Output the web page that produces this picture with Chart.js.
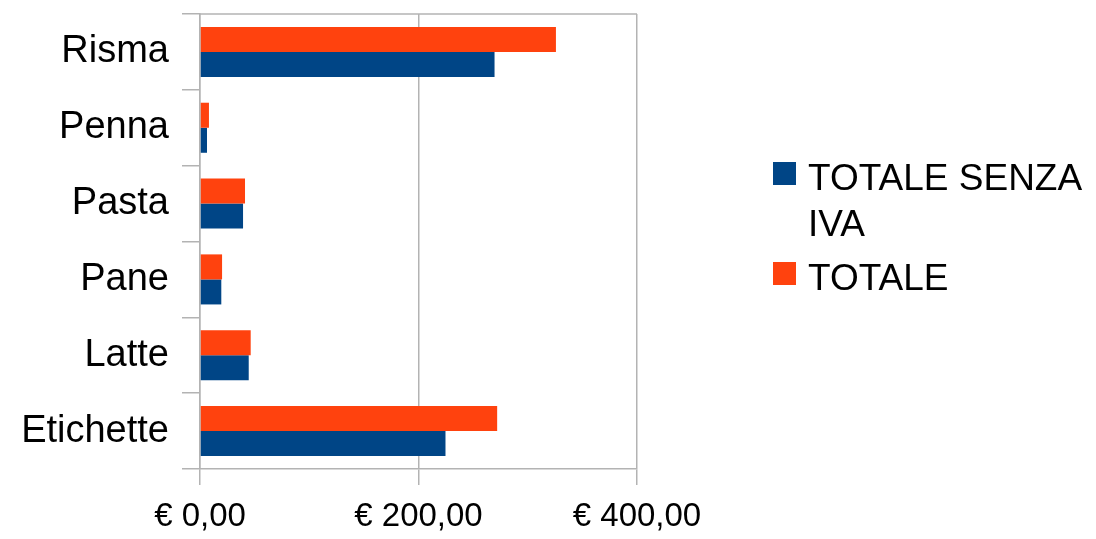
<!DOCTYPE html>
<html>
<head>
<meta charset="utf-8">
<script src="https://cdn.jsdelivr.net/npm/chart.js@4"></script>
<style>
  body { margin: 0; background: #fff; }
  #wrap { position: relative; width: 1096px; height: 539px; }
  #legend { position: absolute; left: 773px; top: 155px; font-family: "Liberation Sans", Arial, sans-serif; font-size: 37px; color: #000; }
  .item { position: relative; padding-left: 35px; width: 290px; line-height: 46px; }
  .box { position: absolute; left: 0; top: 7px; width: 23px; height: 23px; }
</style>
</head>
<body>
<div id="wrap">
  <canvas id="chart" width="1096" height="539"></canvas>
  <div id="legend"></div>
</div>
<script>
// Data
const categories = ['Risma', 'Penna', 'Pasta', 'Pane', 'Latte', 'Etichette'];
const totaleSenzaIva = [269.6, 6.4, 39.4, 19.5, 44.6, 224.7];
const totale = [325.8, 8.2, 41.2, 20.2, 46.4, 272.0];
const xTicks = [0, 200, 400];

const BLUE = '#004586';
const ORANGE = '#ff420e';
const GRID = '#b3b3b3';
const FONT = '"Liberation Sans", Arial, sans-serif';

// draws the top edge of the plot box
const topBorder = {
    id: 'topBorder',
    afterDraw(chart) {
        const { ctx, chartArea } = chart;
        ctx.save();
        ctx.strokeStyle = GRID;
        ctx.lineWidth = 1.5;
        ctx.beginPath();
        ctx.moveTo(chartArea.left, chartArea.top);
        ctx.lineTo(chartArea.right, chartArea.top);
        ctx.stroke();
        ctx.restore();
    }
};

const chart = new Chart(document.getElementById('chart'), {
    type: 'bar',
    data: {
        labels: categories,
        datasets: [
            { label: 'TOTALE', data: totale, backgroundColor: ORANGE },
            { label: 'TOTALE SENZA IVA', data: totaleSenzaIva, backgroundColor: BLUE }
        ]
    },
    options: {
        indexAxis: 'y',
        responsive: false,
        animation: false,
        categoryPercentage: 0.66,
        barPercentage: 1.0,
        layout: { padding: { top: 14, right: 459, left: 0, bottom: 0 } },
        scales: {
            x: {
                min: 0,
                max: 400,
                afterBuildTicks: scale => { scale.ticks = xTicks.map(v => ({ value: v })); },
                afterFit: scale => { scale.height = 70; scale.paddingLeft = 0; scale.paddingRight = 0; },
                grid: { color: GRID, lineWidth: 1.5, tickLength: 16 },
                border: { color: GRID, width: 1.5 },
                ticks: {
                    color: '#000',
                    padding: 12,
                    font: { family: FONT, size: 33 },
                    callback: v => '€ ' + v.toFixed(2).replace('.', ',')
                }
            },
            y: {
                afterFit: scale => { scale.width = 200; scale.paddingTop = 0; scale.paddingBottom = 0; },
                grid: { offset: true, drawOnChartArea: false, color: GRID, lineWidth: 1.5, tickLength: 18 },
                border: { color: GRID, width: 1.5 },
                ticks: {
                    color: '#000',
                    padding: 13,
                    font: { family: FONT, size: 38 }
                }
            }
        },
        plugins: {
            legend: { display: false },
            tooltip: { enabled: false }
        }
    },
    plugins: [topBorder]
});

// HTML legend so the long label can wrap like the original
const legendEl = document.getElementById('legend');
[1, 0].forEach(i => {
    const ds = chart.data.datasets[i];
    const item = document.createElement('div');
    item.className = 'item';
    item.style.marginBottom = i === 1 ? '8px' : '0';
    const box = document.createElement('span');
    box.className = 'box';
    box.style.background = ds.backgroundColor;
    item.appendChild(box);
    item.appendChild(document.createTextNode(ds.label));
    legendEl.appendChild(item);
});
</script>
</body>
</html>
